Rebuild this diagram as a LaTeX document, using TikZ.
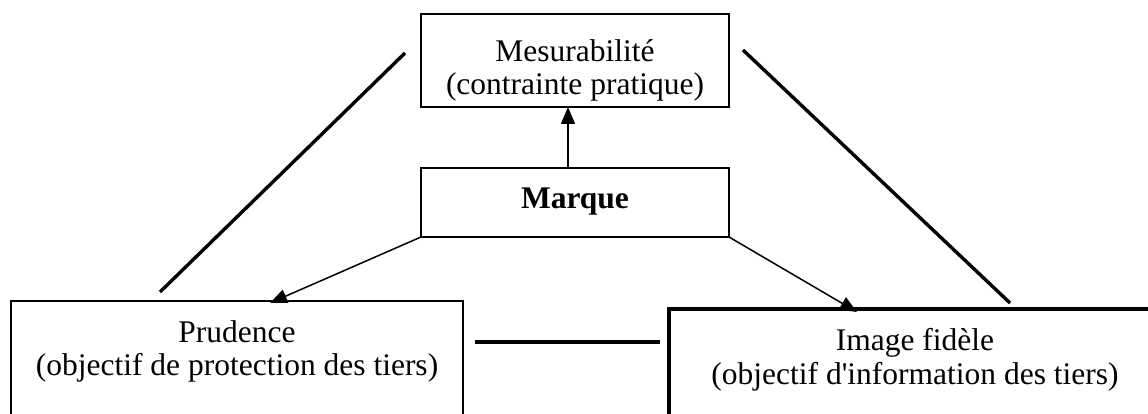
\documentclass[tikz,border=0pt]{standalone}
\usepackage{fontspec}
\setmainfont{Liberation Serif}[Ligatures=TeXOff]
\usetikzlibrary{arrows.meta}
\begin{document}
\begin{tikzpicture}[x=1pt,y=-1pt,
  box/.style={draw=black, rectangle, inner sep=0pt, outer sep=0pt},
  thinbox/.style={box, line width=1.5pt},
  midbox/.style={box, line width=2.2pt},
  boldbox/.style={box, line width=3.2pt},
  lbl/.style={anchor=base, inner sep=0pt, font=\fontsize{31.5}{34}\selectfont},
  link/.style={line width=3.4pt},
  arr/.style={line width=1.5pt, -{Triangle[length=17pt,width=14pt]}}]
\useasboundingbox (0,0) rectangle (1148,414);
\clip (0,0) rectangle (1148,414);

% boxes
\node[thinbox, minimum width=308pt, minimum height=93pt] (mes) at (575,60.5) {};
\node[midbox, minimum width=308pt, minimum height=69pt] (mar) at (575,202.5) {};
\node[thinbox, anchor=north west, minimum width=452pt, minimum height=150pt] (pru) at (11,301) {};
\node[boldbox, anchor=north west, minimum width=492pt, minimum height=150pt] (img) at (669,309) {};

% texts
\node[lbl] (mes1) at (575,62) {Mesurabilité};
\node[lbl] (mes2) at (575,95) {(contrainte pratique)};
\node[lbl, font=\fontsize{31.5}{34}\selectfont\bfseries] (mar1) at (575,208) {Marque};
\node[lbl] (pru1) at (237,342) {Prudence};
\node[lbl] (pru2) at (237,375) {(objectif de protection des tiers)};
\node[lbl] (img1) at (915,350) {Image fidèle};
\node[lbl] (img2) at (915,384) {(objectif d'information des tiers)};

% free ends of the triangle sides
\coordinate (mesL) at (405,53);
\coordinate (pruT) at (160,292);
\coordinate (mesR) at (743,50);
\coordinate (imgT) at (1010,303);
\coordinate (pruR) at (475,342);
\coordinate (imgL) at (660,342);

\draw[link] (mesL) -- (pruT);
\draw[link] (mesR) -- (imgT);
\draw[link] (pruR) -- (imgL);

% arrows out of the brand box
\draw[arr] ([xshift=-7pt]mar.north) -- ([xshift=-7pt]mes.south);
\draw[arr] (mar.south west) -- ([xshift=259pt,yshift=-2pt]pru.north west);
\draw[arr] (mar.south east) -- ([xshift=188pt,yshift=-3pt]img.north west);
\end{tikzpicture}
\end{document}
